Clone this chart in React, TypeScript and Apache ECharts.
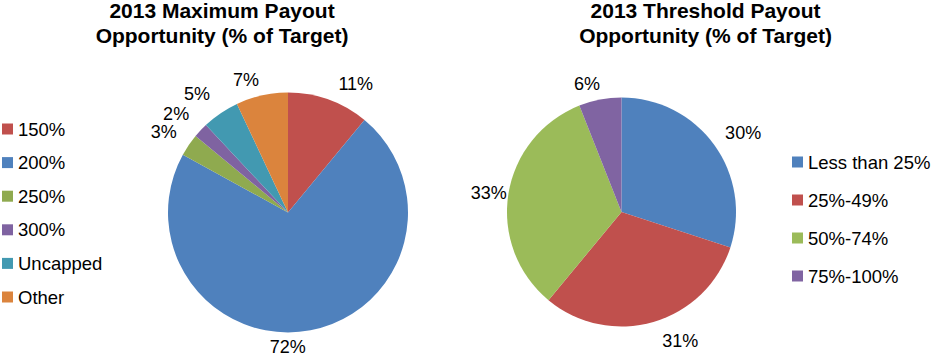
import React, { useEffect, useRef } from "react";
import * as echarts from "echarts";

const leftTitle = "2013 Maximum Payout\nOpportunity (% of Target)";
const rightTitle = "2013 Threshold Payout\nOpportunity (% of Target)";

const maxCategories = ["150%", "200%", "250%", "300%", "Uncapped", "Other"];
const maxValues = [11, 72, 3, 2, 5, 7];
const maxColors = ["#C0504D", "#4F81BD", "#8FAA4F", "#7F63A1", "#4299B1", "#DB843D"];

const thrCategories = ["Less than 25%", "25%-49%", "50%-74%", "75%-100%"];
const thrValues = [30, 31, 33, 6];
const thrColors = ["#4F81BD", "#C0504D", "#9BBB59", "#8064A2"];

// small label nudges (px) relative to ECharts' default outside placement
const maxLabelNudge = [[4, 0], [-44, 0], [2, -3], [1, -5], [-1, -5], [1, 1]];
const thrLabelNudge = [[-6, 1], [3, -1], [19, 2], [4, 5]];

const FONT = "'Liberation Sans', Arial, sans-serif";

export default function App() {
  const ref = useRef<HTMLDivElement>(null);
  useEffect(() => {
    if (!ref.current) return;
    const chart = echarts.init(ref.current, undefined, { renderer: "svg" });
    const labelStyle = {
      show: true,
      position: "outside",
      formatter: "{c}%",
      fontSize: 18,
      lineHeight: 16,
      color: "#000",
      fontFamily: FONT,
      distanceToLabelLine: 0,
    };
    const nudge = (table: number[][]) => (params: any) => {
      const n = table[params.dataIndex] || [0, 0];
      return { dx: n[0], dy: n[1], hideOverlap: false, moveOverlap: null };
    };
    const titleStyle = {
      fontSize: 21,
      fontWeight: "bold",
      color: "#000",
      lineHeight: 25,
      fontFamily: FONT,
    };
    const legendText = { fontSize: 18.5, lineHeight: 20, color: "#000", fontFamily: FONT };
    chart.setOption({
      animation: false,
      textStyle: { fontFamily: FONT },
      title: [
        { text: leftTitle, left: 222, top: -2.5, padding: 0, textAlign: "center", textStyle: titleStyle },
        { text: rightTitle, left: 705.5, top: -2.5, padding: 0, textAlign: "center", textStyle: titleStyle },
      ],
      legend: [
        {
          orient: "vertical",
          left: 2,
          top: 119,
          padding: 0,
          icon: "rect",
          itemWidth: 11,
          itemHeight: 11,
          itemGap: 13.6,
          selectedMode: false,
          data: maxCategories,
          textStyle: legendText,
        },
        {
          orient: "vertical",
          left: 792,
          top: 152,
          padding: 0,
          icon: "rect",
          itemWidth: 11,
          itemHeight: 11,
          itemGap: 18,
          selectedMode: false,
          data: thrCategories,
          textStyle: legendText,
        },
      ],
      series: [
        {
          type: "pie",
          center: [288, 212.5],
          radius: 120,
          startAngle: 90,
          clockwise: true,
          avoidLabelOverlap: false,
          silent: true,
          emphasis: { disabled: true },
          label: labelStyle,
          labelLine: { show: false, length: 17, length2: 0 },
          labelLayout: nudge(maxLabelNudge),
          data: maxCategories.map((n, i) => ({
            name: n,
            value: maxValues[i],
            itemStyle: { color: maxColors[i] },
          })),
        },
        {
          type: "pie",
          center: [621.5, 212],
          radius: 114.5,
          startAngle: 90,
          clockwise: true,
          avoidLabelOverlap: false,
          silent: true,
          emphasis: { disabled: true },
          label: labelStyle,
          labelLine: { show: false, length: 21, length2: 0 },
          labelLayout: nudge(thrLabelNudge),
          data: thrCategories.map((n, i) => ({
            name: n,
            value: thrValues[i],
            itemStyle: { color: thrColors[i] },
          })),
        },
      ],
    });
    return () => chart.dispose();
  }, []);
  return (
    <div
      ref={ref}
      style={{ position: "fixed", left: 0, top: 0, width: 932, height: 358, background: "#fff" }}
    />
  );
}
